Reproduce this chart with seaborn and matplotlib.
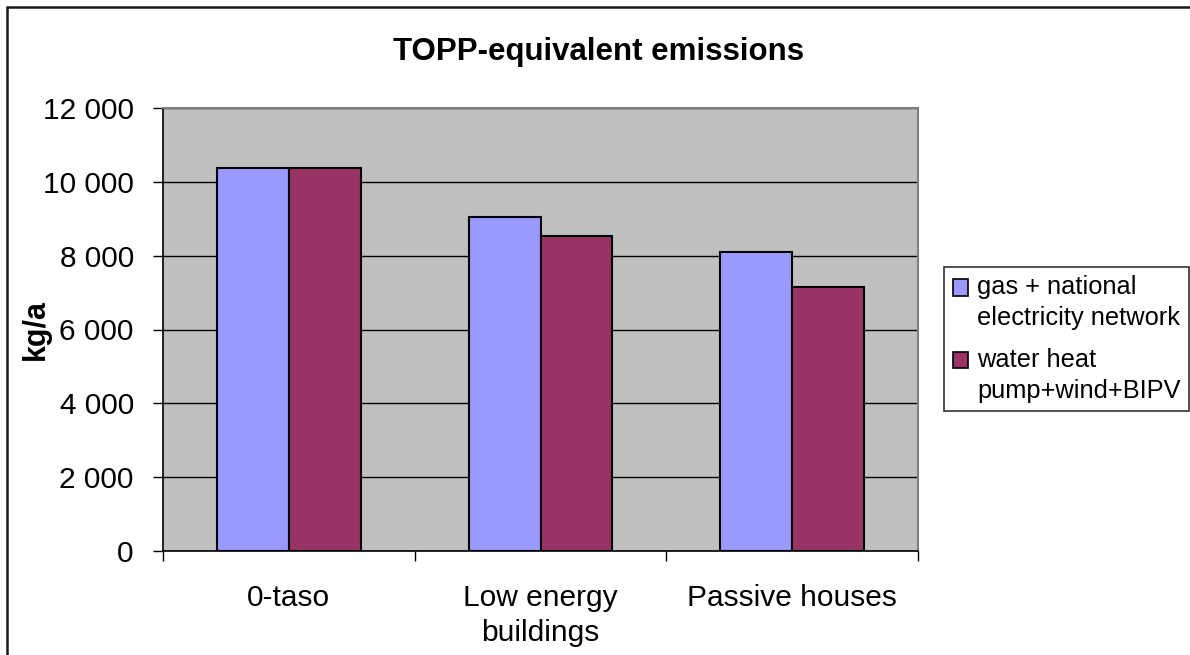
import matplotlib
matplotlib.use("Agg")
import matplotlib.pyplot as plt
from matplotlib.patches import Rectangle
from matplotlib.legend_handler import HandlerPatch
from matplotlib.ticker import FuncFormatter, FixedLocator
import seaborn as sns
import pandas as pd

# Data
categories = ["0-taso", "Low energy\nbuildings", "Passive houses"]
series_names = ["gas + national\nelectricity network", "water heat\npump+wind+BIPV"]
gas_grid = [10370, 9050, 8100]
heatpump_wind_pv = [10370, 8530, 7140]
colors = ["#9999FF", "#993366"]

df = pd.DataFrame({
    "category": categories * 2,
    "series": [series_names[0]] * 3 + [series_names[1]] * 3,
    "value": gas_grid + heatpump_wind_pv,
})

sns.set_style("white")
plt.rcParams["font.family"] = ["Liberation Sans", "DejaVu Sans"]
plt.rcParams.update({"text.color": "black", "axes.labelcolor": "black",
                     "xtick.color": "black", "ytick.color": "black"})

W, H = 1190, 655
fig = plt.figure(figsize=(W / 100, H / 100), dpi=100)
ax = fig.add_axes([163 / W, 1 - 551 / H, (918 - 163) / W, (551 - 108) / H])

sns.barplot(data=df, x="category", y="value", hue="series", order=categories,
            hue_order=series_names, palette=colors, width=0.572, saturation=1,
            edgecolor="black", linewidth=1.5, ax=ax)

ax.set_facecolor("#C0C0C0")
ax.set_ylim(0, 12000)
ax.set_xlim(-0.5, 2.5)
ax.set_axisbelow(True)
ax.yaxis.grid(True, color="black", linewidth=1)
ax.xaxis.grid(False)
ax.set_yticks(range(0, 12001, 2000))
ax.yaxis.set_major_formatter(FuncFormatter(lambda v, p: f"{int(v):,}".replace(",", " ")))

# Category labels centered, tick marks at category boundaries
ax.xaxis.set_minor_locator(FixedLocator([-0.5, 0.5, 1.5, 2.5]))
ax.tick_params(axis="x", which="major", length=0, pad=24, labelsize=21.5)
ax.tick_params(axis="x", which="minor", length=7, width=1, color="black", direction="out", bottom=True)
ax.tick_params(axis="y", which="major", length=7, width=1, color="black", direction="out",
               left=True, pad=14, labelsize=21.5)
for lbl in ax.get_xticklabels():
    lbl.set_linespacing(1.3)

for s in ["top", "right"]:
    ax.spines[s].set_color("#808080")
    ax.spines[s].set_linewidth(1.5)
for s in ["left", "bottom"]:
    ax.spines[s].set_color("black")
    ax.spines[s].set_linewidth(1.2)

ax.set_xlabel("")
ax.set_ylabel("kg/a", fontsize=22, fontweight="bold")
ax.yaxis.set_label_coords(-0.149, 0.5)

fig.text(599 / W, 1 - 52 / H, "TOPP-equivalent emissions", ha="center", va="center",
         fontsize=22.5, fontweight="bold")


# Legend swatches sit beside the first line of each two-line label
def top_swatch(legend, orig_handle, xdescent, ydescent, width, height, fontsize):
    return Rectangle((-xdescent, -ydescent + 0.62 * fontsize), width, height)


leg = ax.legend(loc="center left", bbox_to_anchor=(944 / W, 1 - 339 / H),
                bbox_transform=fig.transFigure, frameon=True, fancybox=False,
                fontsize=18.3, handlelength=0.6, handleheight=0.6, handletextpad=0.35,
                labelspacing=0.7, borderpad=0.35, borderaxespad=0,
                handler_map={Rectangle: HandlerPatch(patch_func=top_swatch)})
leg.get_frame().set_edgecolor("black")
leg.get_frame().set_linewidth(1.2)
leg.get_frame().set_facecolor("white")
for h, c in zip(leg.legend_handles, colors):
    h.set_facecolor(c)
    h.set_edgecolor("black")
    h.set_linewidth(1.2)
for t in leg.get_texts():
    t.set_linespacing(1.35)

# Outer chart frame
fig.patches.append(Rectangle((7 / W, -0.1), 1.5, 1 - 7 / H + 0.1, transform=fig.transFigure,
                             fill=False, edgecolor="#1a1a1a", linewidth=1.8))

fig.savefig("out.png", dpi=100)
